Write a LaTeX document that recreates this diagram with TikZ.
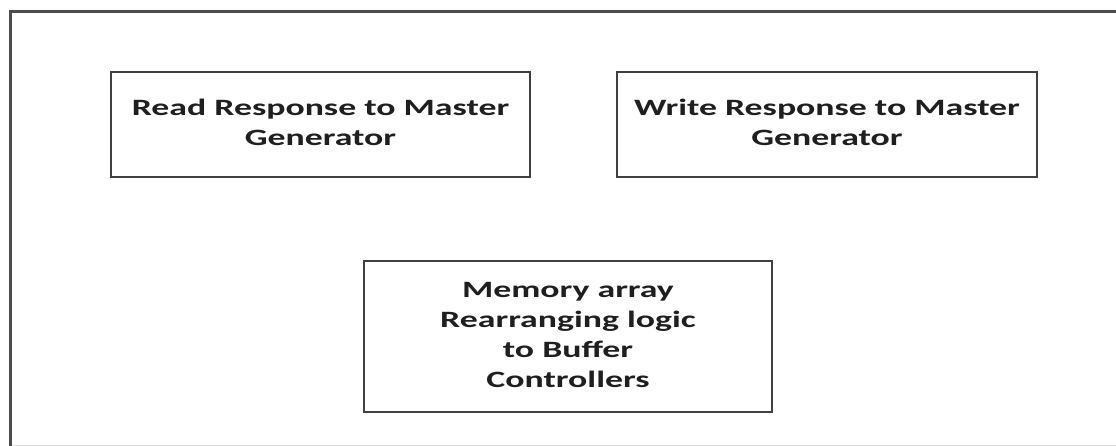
\documentclass[tikz,border=0pt]{standalone}
\usepackage{fontspec}
\usepackage{graphicx}
\setmainfont{Carlito}
\newcommand{\stretchtxt}[1]{\scalebox{1.59}[1.04]{\begin{tabular}{@{}c@{}}#1\end{tabular}}}
\begin{document}
\begin{tikzpicture}[x=1pt,y=-1pt,
  blk/.style={draw=black!75,line width=2pt,align=center,font=\bfseries\fontsize{22.5}{29}\selectfont,text=black!88,inner sep=0pt},
  frame/.style={draw=black!70,line width=2.6pt}]
\useasboundingbox (0,0) rectangle (1116,446);
\fill[white] (0,0) rectangle (1116,446);
\coordinate (tl) at (10.5,11.5);
\coordinate (tr) at (1118,11.5);
\coordinate (bl) at (10.5,448);
\draw[frame] (bl) -- (tl) -- (tr);
\draw[black!12,line width=1pt] (12,445) -- (1116,445);
\node[blk,minimum width=419pt,minimum height=105pt] (read) at (320.5,124.5) {\stretchtxt{Read Response to Master\\Generator}};
\node[blk,minimum width=420pt,minimum height=105pt] (write) at (827,124.5) {\stretchtxt{Write Response to Master\\Generator}};
\node[blk,minimum width=408pt,minimum height=151pt] (mem) at (568,336.5) {\stretchtxt{Memory array\\Rearranging logic\\to Buffer\\Controllers}};
\end{tikzpicture}
\end{document}
